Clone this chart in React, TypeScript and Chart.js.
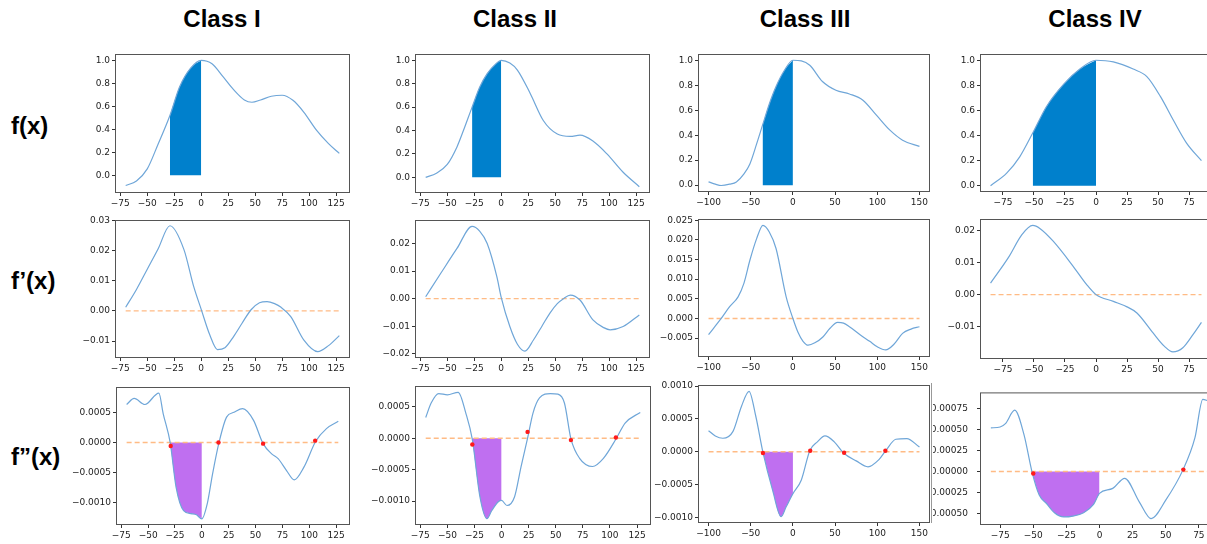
import React, { useEffect, useRef } from "react";
import { Chart, registerables } from "chart.js";
Chart.register(...registerables);

// ---------- Titles ----------
const columnTitles = ["Class I", "Class II", "Class III", "Class IV"];
const rowTitles = ["f(x)", "f\u2019(x)", "f\u201d(x)"];

// ---------- Tick labels ----------
const xTicksA = [-75, -50, -25, 0, 25, 50, 75, 100, 125];
const xTicksB = [-100, -50, 0, 50, 100, 150];
const xTicksC = [-75, -50, -25, 0, 25, 50, 75];
const yTicksF = [0, 0.2, 0.4, 0.6, 0.8, 1.0];
const yTicksD1 = [-0.01, 0, 0.01, 0.02, 0.03];
const yTicksD2 = [-0.02, -0.01, 0, 0.01, 0.02];
const yTicksD3 = [-0.005, 0, 0.005, 0.01, 0.015, 0.02, 0.025];
const yTicksD4 = [-0.01, 0, 0.01, 0.02];
const yTicksDD1 = [-0.001, -0.0005, 0, 0.0005];
const yTicksDD3 = [-0.001, -0.0005, 0, 0.0005, 0.001];
const yTicksDD4 = [-0.0005, -0.00025, 0, 0.00025, 0.0005, 0.00075];

// ---------- f(x) ----------
const fX1 = [-70, -60, -50, -40, -29, -20, -10, 0, 10, 20, 30, 40, 47, 55, 65, 75, 85, 95, 107, 118, 128];
const fY1 = [-0.09, -0.05, 0.055, 0.27, 0.52, 0.77, 0.93, 1.0, 0.97, 0.86, 0.745, 0.655, 0.635, 0.655, 0.687, 0.696, 0.652, 0.55, 0.39, 0.275, 0.19];
const fX2 = [-70, -60, -50, -41, -35, -27, -20, -13, -5, 0, 8, 15, 27, 39, 52, 64, 73, 85, 98, 113, 128];
const fY2 = [0.0, 0.035, 0.11, 0.26, 0.4, 0.6, 0.77, 0.886, 0.97, 1.0, 0.977, 0.917, 0.715, 0.486, 0.37, 0.35, 0.36, 0.31, 0.2, 0.043, -0.08];
const fX3 = [-100, -92, -85, -75, -67, -58, -51, -43, -36, -28, -20, -10, 0, 10, 20, 35, 51, 67, 83, 99, 115, 130, 150];
const fY3 = [0.026, 0.008, -0.003, 0.008, 0.026, 0.09, 0.17, 0.33, 0.48, 0.65, 0.79, 0.92, 1.0, 0.995, 0.96, 0.83, 0.76, 0.73, 0.68, 0.56, 0.44, 0.36, 0.31];
const fX4 = [-85, -72, -61.5, -51, -40, -26, -13, 0, 14, 30, 41, 52, 62.5, 73, 85];
const fY4 = [0.0, 0.1, 0.23, 0.42, 0.63, 0.81, 0.93, 1.0, 0.987, 0.93, 0.87, 0.71, 0.52, 0.34, 0.2];
const fFill1 = [-29, 0];
const fFill2 = [-27, 0];
const fFill3 = [-36, 0];
const fFill4 = [-51, 0];

// ---------- f'(x) ----------
const dX1 = [-70, -60, -50, -40, -29, -16, -7, 0, 8, 15, 22, 30, 38, 46, 54, 61, 68, 74, 83, 95, 108, 118, 128];
const dY1 = [0.0012, 0.0071, 0.0138, 0.0205, 0.0282, 0.0203, 0.0081, 0.0005, -0.008, -0.0128, -0.0122, -0.0085, -0.004, 0.0003, 0.0027, 0.0031, 0.0024, 0.0012, -0.0019, -0.0096, -0.0135, -0.0115, -0.0082];
const dX2 = [-70, -56, -41, -27, -20, -13, -4, 0, 8, 15, 22, 30, 38, 45, 52, 58, 64, 73, 85, 95, 101, 113, 128];
const dY2 = [0.0007, 0.0092, 0.0182, 0.0262, 0.0245, 0.02, 0.0079, 0.0005, -0.0101, -0.0165, -0.019, -0.0149, -0.0098, -0.0053, -0.0018, 0.0001, 0.0013, -0.0005, -0.0077, -0.0105, -0.0113, -0.0101, -0.0059];
const dX3 = [-100, -85, -75, -65, -58, -51, -43, -35.5, -28, -20, -8, 0, 6, 12, 18, 26, 35.5, 44, 53, 60, 67, 80, 91, 100, 110, 120, 130, 140, 150];
const dY3 = [-0.0041, 0.0, 0.003, 0.0055, 0.009, 0.0148, 0.0203, 0.0237, 0.022, 0.0178, 0.0055, 0.0, -0.0035, -0.0058, -0.0068, -0.0062, -0.0047, -0.0025, -0.001, -0.0012, -0.0021, -0.0042, -0.0058, -0.0072, -0.008, -0.0065, -0.0038, -0.0027, -0.0021];
const dX4 = [-85, -70, -60, -51, -45, -34.5, -18.4, -7.5, 0, 14, 25, 33, 46, 55, 62, 70, 78, 85];
const dY4 = [0.0036, 0.0119, 0.0185, 0.0215, 0.0205, 0.0166, 0.0088, 0.0031, 0.0, -0.0021, -0.0038, -0.0057, -0.0119, -0.016, -0.0178, -0.0165, -0.0125, -0.0086];

// ---------- f''(x) ----------
const ddX1 = [-70, -63, -53, -40, -36, -29.5, -24, -17, -10, -5, 0, 5, 10, 16, 23, 30, 38, 48, 57, 65, 71, 79, 86, 95, 106, 116, 127];
const ddY1 = [0.00063, 0.00073, 0.00063, 0.00082, 0.00048, 0.0, -0.00074, -0.00113, -0.00118, -0.0012, -0.00127, -0.00102, -0.00052, 0.0, 0.00042, 0.0005, 0.00056, 0.00037, -0.00002, -0.00019, -0.00027, -0.00047, -0.00062, -0.00041, 0.00002, 0.00023, 0.00035];
const ddX2 = [-70, -65, -58, -50, -40, -33, -27, -20, -13.5, -9, -3, 0, 5, 12, 18, 24, 29, 35, 45, 52, 58, 64, 72, 84, 94, 106, 114, 128];
const ddY2 = [0.00033, 0.00056, 0.00071, 0.00069, 0.00073, 0.0004, -0.00002, -0.00093, -0.00128, -0.00115, -0.00101, -0.00099, -0.00107, -0.00093, -0.00045, 0.0, 0.0004, 0.00064, 0.00071, 0.0007, 0.00056, -0.00001, -0.00032, -0.00045, -0.00032, 0.0, 0.00024, 0.00041];
const ddX3 = [-100, -92, -83, -71, -61, -52, -44, -35.5, -24, -14, -8, 0, 10, 20, 29, 38, 49, 60, 75, 89, 102, 110, 122, 135, 150];
const ddY3 = [0.00032, 0.00024, 0.000205, 0.00031, 0.00069, 0.00092, 0.00054, -0.00001, -0.00059, -0.00099, -0.00084, -0.00064, -0.00043, 0.000015, 0.00015, 0.00024, 0.00015, -0.00002, -0.00014, -0.00023, -0.00012, 0.000015, 0.00019, 0.0002, 0.00007];
const ddX4 = [-82, -75, -71, -64, -57, -51, -45.5, -40, -34, -27, -20, -12, -4.5, 0, 10, 19, 30, 39, 50, 63, 72, 78, 82];
const ddY4 = [0.00052, 0.00053, 0.00057, 0.00073, 0.00044, 0.0, -0.00028, -0.00038, -0.00049, -0.00054, -0.00053, -0.00049, -0.00039, -0.00026, -0.0002, -0.00008, -0.00036, -0.00056, -0.00034, 0.00002, 0.0004, 0.00086, 0.00084];
const ddFill1 = [-29.5, 0];
const ddFill2 = [-27, 0];
const ddFill3 = [-35.5, 0];
const ddFill4 = [-51, 0];
const ddDotX1 = [-29, 15.5, 57, 105.5];
const ddDotY1 = [-0.00006, 0.0, -0.00002, 0.00003];
const ddDotX2 = [-27, 24, 64, 105.5];
const ddDotY2 = [-0.0001, 0.0001, -0.00003, 0.00001];
const ddDotX3 = [-35.5, 20.5, 60.7, 109.6];
const ddDotY3 = [-0.00002, 0.000015, -0.000015, 0.000015];
const ddDotX4 = [-50, 63.3];
const ddDotY4 = [-0.000023, 0.000023];

// ---------- styles ----------
const LINE_COLOR = "#6fa6d8";
const FILL_BLUE = "#0080cc";
const FILL_PURPLE = "#bf6ff0";
const ZERO_COLOR = "#ffbb85";
const DOT_COLOR = "#ff1a1a";
const TICK_COLOR = "#222";
const FRAME_COLOR = "#555";
const MT = 8;
const MR = 16;
const MB = 22;

type Cfg = {
  xs: number[];
  ys: number[];
  box: number[];
  xr: number[];
  yr: number[];
  xt: number[];
  yt: number[];
  yd: number;
  fill?: number[];
  fillColor?: string;
  zero?: boolean;
  dotsX?: number[];
  dotsY?: number[];
  ml?: number;
  ypad?: number;
};

const XR_A = [-79.9, 137.9];
const XR_B = [-112.5, 162.5];
const XR_C = [-93.5, 93.5];

const PANELS: Cfg[] = [
  { xs: fX1, ys: fY1, box: [115, 54, 350, 193], xr: XR_A, yr: [-0.155, 1.055], xt: xTicksA, yt: yTicksF, yd: 1, fill: fFill1, fillColor: FILL_BLUE },
  { xs: fX2, ys: fY2, box: [415, 54, 650, 193], xr: XR_A, yr: [-0.134, 1.054], xt: xTicksA, yt: yTicksF, yd: 1, fill: fFill2, fillColor: FILL_BLUE },
  { xs: fX3, ys: fY3, box: [698, 54, 930, 192], xr: XR_B, yr: [-0.055, 1.05], xt: xTicksB, yt: yTicksF, yd: 1, fill: fFill3, fillColor: FILL_BLUE },
  { xs: fX4, ys: fY4, box: [980, 54, 1212, 192], xr: XR_C, yr: [-0.05, 1.05], xt: xTicksC, yt: yTicksF, yd: 1, fill: fFill4, fillColor: FILL_BLUE },

  { xs: dX1, ys: dY1, box: [115, 220, 350, 358], xr: XR_A, yr: [-0.0156, 0.0301], xt: xTicksA, yt: yTicksD1, yd: 2, zero: true },
  { xs: dX2, ys: dY2, box: [415, 220, 650, 358], xr: XR_A, yr: [-0.0215, 0.0285], xt: xTicksA, yt: yTicksD2, yd: 2, zero: true },
  { xs: dX3, ys: dY3, box: [698, 219, 930, 357], xr: XR_B, yr: [-0.0098, 0.0253], xt: xTicksB, yt: yTicksD3, yd: 3, zero: true },
  { xs: dX4, ys: dY4, box: [980, 219, 1212, 359], xr: XR_C, yr: [-0.02, 0.0235], xt: xTicksC, yt: yTicksD4, yd: 2, zero: true },

  { xs: ddX1, ys: ddY1, box: [116, 387, 350, 525], xr: XR_A, yr: [-0.00137, 0.00092], xt: xTicksA, yt: yTicksDD1, yd: 4, zero: true, fill: ddFill1, fillColor: FILL_PURPLE, dotsX: ddDotX1, dotsY: ddDotY1 },
  { xs: ddX2, ys: ddY2, box: [415, 386, 651, 525], xr: XR_A, yr: [-0.00138, 0.00083], xt: xTicksA, yt: yTicksDD1, yd: 4, zero: true, fill: ddFill2, fillColor: FILL_PURPLE, dotsX: ddDotX2, dotsY: ddDotY2 },
  { xs: ddX3, ys: ddY3, box: [698, 385, 930, 523], xr: XR_B, yr: [-0.001086, 0.001016], xt: xTicksB, yt: yTicksDD3, yd: 4, zero: true, fill: ddFill3, fillColor: FILL_PURPLE, dotsX: ddDotX3, dotsY: ddDotY3 },
  { xs: ddX4, ys: ddY4, box: [980, 386, 1219, 525], xr: [-90.2, 90.2], yr: [-0.000636, 0.000942], xt: xTicksC, yt: yTicksDD4, yd: 5, zero: true, fill: ddFill4, fillColor: FILL_PURPLE, dotsX: ddDotX4, dotsY: ddDotY4, ml: 47, ypad: 9 },
];

const fmt = (v: number, d: number) => {
  const n = Math.abs(v) < 1e-12 ? 0 : v;
  return n.toFixed(d).replace("-", "\u2212");
};

const framePlugin = {
  id: "frame",
  afterDraw(chart: any) {
    const { ctx, chartArea: a } = chart;
    ctx.save();
    ctx.strokeStyle = FRAME_COLOR;
    ctx.lineWidth = 1;
    ctx.strokeRect(a.left + 0.5, a.top + 0.5, a.right - a.left - 1, a.bottom - a.top - 1);
    ctx.restore();
  },
};

function Panel({ cfg }: { cfg: Cfg }) {
  const ref = useRef<HTMLCanvasElement>(null);
  const [l, t, r, b] = cfg.box;
  const ml = cfg.ml ?? 70;
  const W = ml + (r - l) + MR;
  const H = MT + (b - t) + MB;

  useEffect(() => {
    const pts = cfg.xs.map((x, i) => ({ x, y: cfg.ys[i] }));
    const datasets: any[] = [];
    datasets.push({
      data: pts,
      showLine: true,
      borderColor: LINE_COLOR,
      borderWidth: 1.2,
      pointRadius: 0,
      cubicInterpolationMode: "monotone",
      fill: false,
      order: 2,
    });
    if (cfg.fill) {
      const [a0, a1] = cfg.fill;
      const sub = pts.filter((p) => p.x >= a0 && p.x <= a1);
      datasets.push({
        data: sub,
        showLine: true,
        borderColor: cfg.fillColor,
        borderWidth: 0,
        backgroundColor: cfg.fillColor,
        pointRadius: 0,
        cubicInterpolationMode: "monotone",
        fill: "origin",
        order: 5,
      });
    }
    if (cfg.zero) {
      datasets.push({
        data: [
          { x: cfg.xs[0], y: 0 },
          { x: cfg.xs[cfg.xs.length - 1], y: 0 },
        ],
        showLine: true,
        borderColor: ZERO_COLOR,
        borderWidth: 1.4,
        borderDash: [5, 3],
        pointRadius: 0,
        fill: false,
        order: 3,
      });
    }
    if (cfg.dotsX && cfg.dotsY) {
      const dy = cfg.dotsY;
      datasets.push({
        data: cfg.dotsX.map((x, i) => ({ x, y: dy[i] })),
        showLine: false,
        pointRadius: 2.2,
        pointBackgroundColor: DOT_COLOR,
        pointBorderWidth: 0,
        order: 1,
      });
    }
    const font = { family: "'DejaVu Sans', sans-serif", size: 9 };
    const chart = new Chart(ref.current as HTMLCanvasElement, {
      type: "scatter",
      data: { datasets },
      plugins: [framePlugin],
      options: {
        animation: false,
        responsive: false,
        devicePixelRatio: 1,
        events: [],
        layout: { padding: { top: MT, right: MR, left: 0, bottom: 0 } },
        plugins: { legend: { display: false }, tooltip: { enabled: false } },
        scales: {
          x: {
            type: "linear",
            min: cfg.xr[0],
            max: cfg.xr[1],
            afterBuildTicks: (s: any) => {
              s.ticks = cfg.xt.map((v) => ({ value: v }));
            },
            afterFit: (s: any) => {
              s.height = MB;
            },
            grid: { display: true, drawOnChartArea: false, drawTicks: true, tickLength: 3, color: "#333" },
            border: { display: false },
            ticks: {
              font,
              color: TICK_COLOR,
              padding: 2,
              maxRotation: 0,
              autoSkip: false,
              callback: (v: any) => fmt(Number(v), 0),
            },
          },
          y: {
            type: "linear",
            min: cfg.yr[0],
            max: cfg.yr[1],
            afterBuildTicks: (s: any) => {
              s.ticks = cfg.yt.map((v) => ({ value: v }));
            },
            afterFit: (s: any) => {
              s.width = ml;
            },
            grid: { display: true, drawOnChartArea: false, drawTicks: true, tickLength: 3, color: "#333" },
            border: { display: false },
            ticks: {
              font,
              color: TICK_COLOR,
              padding: cfg.ypad ?? 2,
              autoSkip: false,
              callback: (v: any) => fmt(Number(v), cfg.yd),
            },
          },
        },
      } as any,
    });
    return () => chart.destroy();
  }, []);

  return (
    <canvas
      ref={ref}
      width={W}
      height={H}
      style={{ position: "absolute", left: l - ml, top: t - MT, width: W, height: H }}
    />
  );
}

const titleX = [222, 515, 805, 1095];
const rowY = [126, 281, 457];

export default function App() {
  return (
    <div
      style={{
        position: "fixed",
        left: 0,
        top: 0,
        width: 1207,
        height: 544,
        overflow: "hidden",
        background: "#fff",
      }}
    >
      {columnTitles.map((s, i) => (
        <div
          key={s}
          style={{
            position: "absolute",
            left: titleX[i] - 100,
            width: 200,
            top: 6,
            textAlign: "center",
            font: "bold 24px 'Liberation Sans', Arial, sans-serif",
            lineHeight: "26px",
            color: "#000",
          }}
        >
          {s}
        </div>
      ))}
      {rowTitles.map((s, i) => (
        <div
          key={s}
          style={{
            position: "absolute",
            left: 11,
            top: rowY[i] - 14,
            font: "bold 24px 'Liberation Sans', Arial, sans-serif",
            lineHeight: "28px",
            color: "#000",
          }}
        >
          {s}
        </div>
      ))}
      {PANELS.map((p, i) => (
        <Panel key={i} cfg={p} />
      ))}
      <div style={{ position: "absolute", left: 931, top: 383, width: 1, height: 140, background: "#999" }} />
    </div>
  );
}
